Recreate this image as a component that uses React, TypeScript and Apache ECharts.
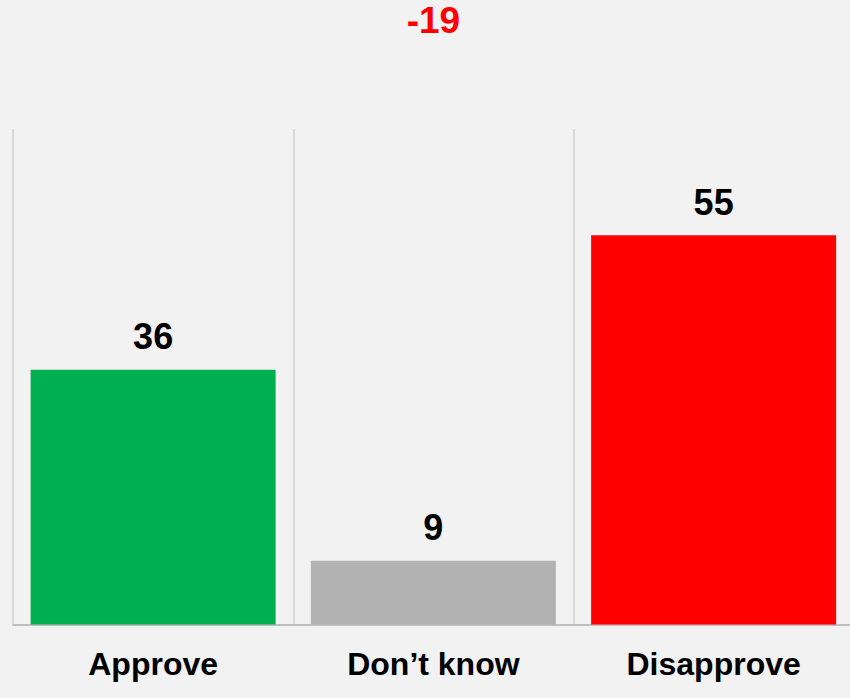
import React, { useEffect, useRef } from "react";
import * as echarts from "echarts";

const categories = ["Approve", "Don\u2019t know", "Disapprove"];
const values = [36, 9, 55];
const barColors = ["#00b050", "#b3b3b3", "#ff0000"];
const netLabel = "-19";

const FONT = "Liberation Sans, Arial, sans-serif";

export default function App() {
  const ref = useRef<HTMLDivElement>(null);
  useEffect(() => {
    if (!ref.current) return;
    const chart = echarts.init(ref.current, undefined, { renderer: "svg" });
    const gridLeft = 13;
    const gridWidth = 840.75;
    chart.setOption({
      animation: false,
      backgroundColor: "#f2f2f2",
      graphic: [
        {
          type: "text",
          x: gridLeft + gridWidth / 2,
          y: 20.5,
          style: {
            text: netLabel,
            fill: "#ff0000",
            font: `bold 37px ${FONT}`,
            textAlign: "center",
            textVerticalAlign: "middle",
          },
        },
      ],
      grid: { left: gridLeft, width: gridWidth, top: 129, bottom: 73.5, containLabel: false },
      xAxis: {
        type: "category",
        data: categories,
        boundaryGap: true,
        axisLine: { show: true, lineStyle: { color: "#bfbfbf", width: 2 } },
        axisTick: { show: false },
        axisLabel: {
          color: "#000",
          fontSize: 32,
          fontWeight: "bold",
          fontFamily: FONT,
          margin: 23,
        },
        splitLine: { show: true, lineStyle: { color: "#d9d9d9", width: 2 } },
      },
      yAxis: {
        type: "value",
        min: 0,
        max: 70,
        show: false,
        splitLine: { show: false },
      },
      series: [
        {
          type: "bar",
          barWidth: 245,
          data: values.map((v, i) => ({ value: v, itemStyle: { color: barColors[i] } })),
          label: {
            show: true,
            position: "top",
            distance: 15,
            color: "#000",
            fontSize: 36,
            fontWeight: "bold",
            fontFamily: FONT,
          },
        },
      ],
    });
    return () => chart.dispose();
  }, []);
  return (
    <div
      style={{
        position: "fixed",
        left: 0,
        top: 0,
        width: 850,
        height: 698,
        overflow: "hidden",
        background: "#f2f2f2",
      }}
    >
      <div ref={ref} style={{ width: 856, height: 698 }} />
    </div>
  );
}
